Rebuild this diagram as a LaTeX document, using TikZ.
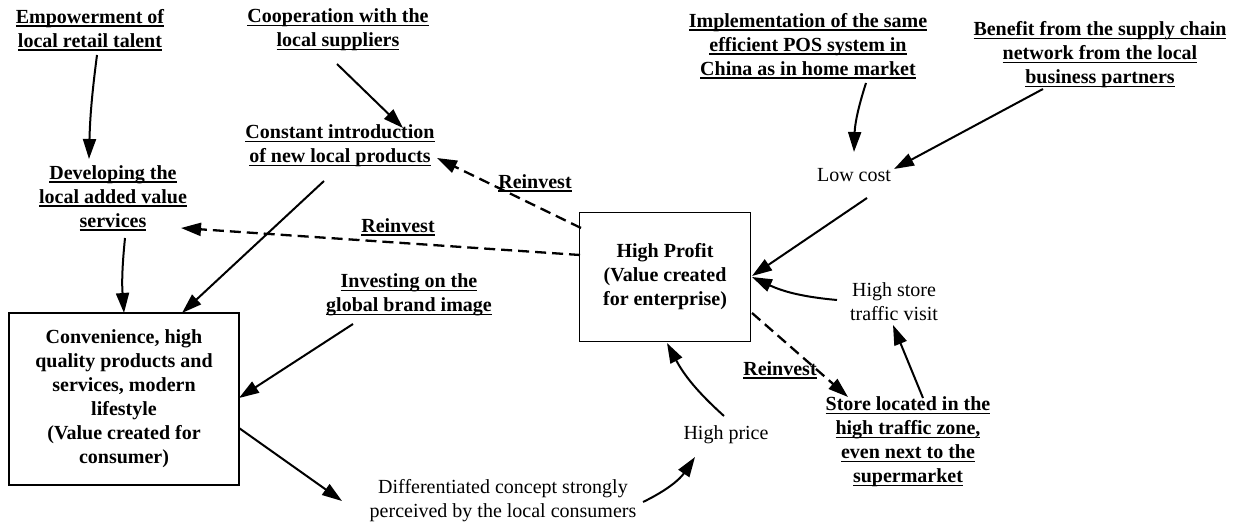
\documentclass[tikz,border=0pt]{standalone}
\usepackage{fontspec}
\setmainfont{Liberation Serif}
\usetikzlibrary{arrows.meta}
\newcommand\ulx[1]{\setbox0\hbox{#1}\rlap{\rule[-3.5pt]{\wd0}{1.6pt}}\box0}
\tikzset{
  txt/.style={inner sep=0pt, align=center, font=\fontsize{20}{24}\selectfont},
  bld/.style={txt, font=\fontsize{20}{24}\selectfont\bfseries},
  boxnode/.style={bld, draw, line width=1.5pt},
  arr/.style={line width=2pt, -{Triangle[length=20pt,width=13pt]}},
  darr/.style={arr, dash pattern=on 11pt off 6pt, line width=2.3pt},
}
\begin{document}
\begin{tikzpicture}[x=1pt,y=-1pt]
\useasboundingbox (0,0) rectangle (1235,526);
% nodes
\node[bld] (emp) at (90,30) {\ulx{Empowerment of}\\\ulx{local retail talent}};
\node[bld] (coop) at (338,30) {\ulx{Cooperation with the}\\\ulx{local suppliers}};
\node[bld] (impl) at (808,46) {\ulx{Implementation of the same}\\\ulx{efficient POS system in}\\\ulx{China as in home market}};
\node[bld] (ben) at (1100,55) {\ulx{Benefit from the supply chain}\\\ulx{network from the local}\\\ulx{business partners}};
\node[bld] (const) at (340,146) {\ulx{Constant introduction}\\\ulx{of new local products}};
\node[bld] (dev) at (113,198) {\ulx{Developing the}\\\ulx{local added value}\\\ulx{services}};
\node[txt] (low) at (854,175) {Low cost};
\node[boxnode, minimum width=230pt, minimum height=172pt] (conv) at (124,399)
  {Convenience, high\\quality products and\\services, modern\\lifestyle\\(Value created for\\consumer)};
\node[boxnode, minimum width=171pt, minimum height=129pt] (prof) at (665,277)
  {High Profit\\(Value created\\for enterprise)};
\node[bld] (inv) at (409,295) {\ulx{Investing on the}\\\ulx{global brand image}};
\node[txt] (traf) at (894,302) {High store\\traffic visit};
\node[txt] (price) at (726,435) {High price};
\node[bld] (store) at (908,442) {\ulx{Store located in the}\\\ulx{high traffic zone,}\\\ulx{even next to the}\\\ulx{supermarket}};
\node[txt] (diff) at (503,501) {Differentiated concept strongly\\perceived by the local consumers};
\node[bld] (r1) at (535,183) {\ulx{Reinvest}};
\node[bld] (r2) at (398,227) {\ulx{Reinvest}};
\node[bld] (r3) at (780,370) {\ulx{Reinvest}};
% solid arrows
\draw[arr] ([shift={(7,25)}]emp.center) to[bend right=3] ([shift={(-24,-39)}]dev.center);
\draw[arr] ([shift={(-1,34)}]coop.center) -- ([shift={(63,-18)}]const.center);
\draw[arr] ([shift={(-16,35)}]const.center) -- ([shift={(58,-86)}]conv.center);
\draw[arr] ([shift={(12,40)}]dev.center) to[bend right=5] ([shift={(0,-86)}]conv.center);
\draw[arr] ([shift={(-56,29)}]inv.center) -- ([shift={(115,-1)}]conv.center);
\draw[arr] ([shift={(115,29)}]conv.center) -- ([shift={(-161,0)}]diff.center);
\draw[arr] ([shift={(140,1)}]diff.center) to[bend right=15] ([shift={(-31,22)}]price.center);
\draw[arr] ([shift={(-2,-19)}]price.center) to[bend left=10] ([shift={(2,66)}]prof.center);
\draw[arr] ([shift={(-57,-2)}]traf.center) to[bend left=10] ([shift={(87,0)}]prof.center);
\draw[arr] ([shift={(13,23)}]low.center) -- ([shift={(87,-1)}]prof.center);
\draw[arr] ([shift={(58,37)}]impl.center) to[bend right=8] ([shift={(0,-23)}]low.center);
\draw[arr] ([shift={(-57,34)}]ben.center) -- ([shift={(40,-6)}]low.center);
\draw[arr] ([shift={(15,-44)}]store.center) -- ([shift={(-1,23)}]traf.center);
% dashed arrows
\draw[darr] ([shift={(-84,-49)}]prof.center) -- ([shift={(97,12)}]const.center);
\draw[darr] ([shift={(-85,-22)}]prof.center) -- ([shift={(68,30)}]dev.center);
\draw[darr] ([shift={(87,36)}]prof.center) -- ([shift={(-60,-45)}]store.center);
\end{tikzpicture}
\end{document}
